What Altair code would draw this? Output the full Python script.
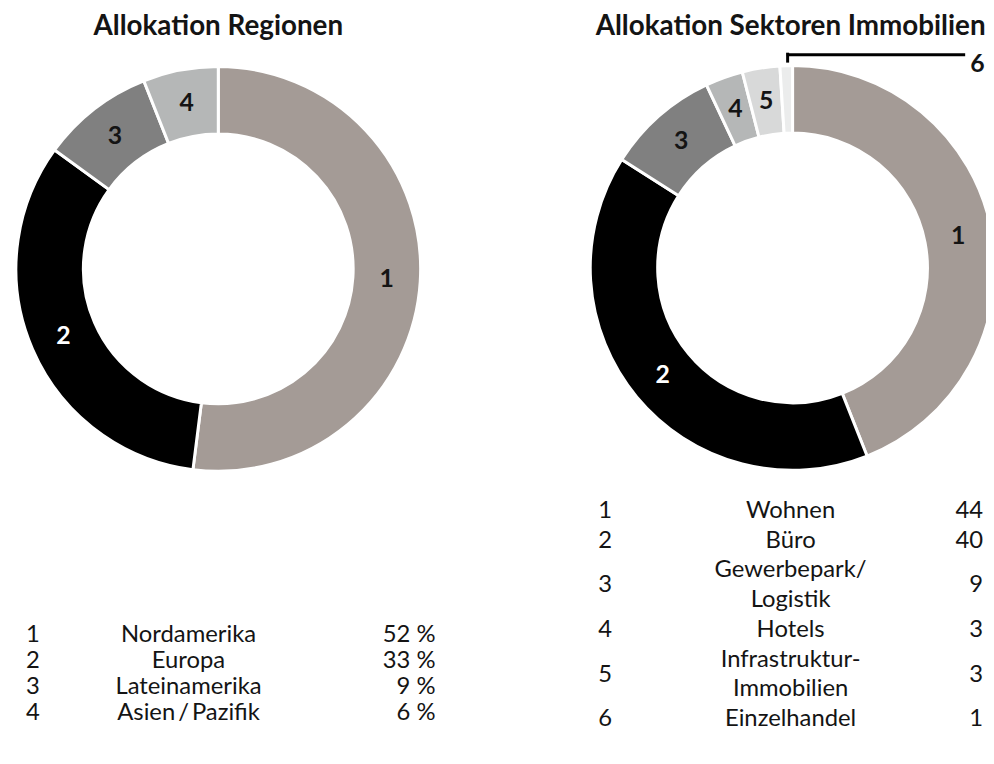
import altair as alt
import pandas as pd

# ---------------- data ----------------
titles = ["Allokation Regionen", "Allokation Sektoren Immobilien"]

reg_ids = [1, 2, 3, 4]
reg_names = ["Nordamerika", "Europa", "Lateinamerika", "Asien\u2009/\u2009Pazifik"]
reg_values = [52, 33, 9, 6]
reg_value_labels = ["52 %", "33 %", "9 %", "6 %"]

sec_ids = [1, 2, 3, 4, 5, 6]
sec_names = ["Wohnen", "Büro", "Gewerbepark/\nLogistik", "Hotels",
             "Infrastruktur-\nImmobilien", "Einzelhandel"]
sec_values = [44, 40, 9, 3, 3, 1]
sec_value_labels = ["44", "40", "9", "3", "3", "1"]

# ---------------- style ----------------
FONT = "Lato"
TXT = "#141414"
LEG_SIZE = 24
reg_colors = ["#a49b96", "#000000", "#808080", "#b5b7b7"]
sec_colors = ["#a49b96", "#000000", "#808080", "#b5b7b7", "#d8d9d9", "#ebecec"]

reg = pd.DataFrame({"id": reg_ids, "name": reg_names, "value": reg_values,
                    "vlabel": reg_value_labels})
sec = pd.DataFrame({"id": sec_ids, "name": sec_names, "value": sec_values,
                    "vlabel": sec_value_labels})
ttl = pd.DataFrame({"title": titles, "k": [0, 1]})


def donut(df, ids, colors, cx, cy):
    base = alt.Chart(df).encode(
        theta=alt.Theta("value:Q", stack=True),
        order=alt.Order("id:Q", sort="ascending"),
    )
    arcs = base.mark_arc(innerRadius=136, outerRadius=204, stroke="white",
                         strokeWidth=3).encode(
        x=alt.value(cx), y=alt.value(cy),
        color=alt.Color("id:N", scale=alt.Scale(domain=ids, range=colors), legend=None),
    )
    labels = base.transform_calculate(
        lab="datum.id == 6 ? '' : '' + datum.id"
    ).mark_text(radius=170, font=FONT, fontSize=25, fontWeight="bold").encode(
        x=alt.value(cx), y=alt.value(cy),
        text="lab:N",
        color=alt.condition(alt.datum.id == 2, alt.value("white"), alt.value(TXT)),
    )
    return [arcs, labels]


left = donut(reg, reg_ids, reg_colors, 212, 260)
right = donut(sec, sec_ids, sec_colors, 791, 259)

# titles
title_l = alt.Chart(ttl).transform_filter(alt.datum.k == 0).mark_text(
    font=FONT, fontSize=28, fontWeight="bold", color=TXT, baseline="middle"
).encode(text="title:N", x=alt.value(212), y=alt.value(16))
title_r = alt.Chart(ttl).transform_filter(alt.datum.k == 1).mark_text(
    font=FONT, fontSize=28, fontWeight="bold", color=TXT, baseline="middle"
).encode(text="title:N", x=alt.value(789), y=alt.value(16))

# outside label 6 with leader line
six = alt.Chart(sec).transform_filter(alt.datum.id == 6)
six_text = six.mark_text(font=FONT, fontSize=25, fontWeight="bold", color=TXT,
                         align="left", baseline="middle").encode(
    text="id:N", x=alt.value(970), y=alt.value(53))
six_h = six.mark_rule(color="black", strokeWidth=3).encode(
    x=alt.value(785), x2=alt.value(965), y=alt.value(44))
six_v = six.mark_rule(color="black", strokeWidth=3).encode(
    x=alt.value(786), y=alt.value(42), y2=alt.value(52))

# left legend table
ly = alt.Y("id:Q", scale=alt.Scale(domain=[1, 4], range=[629, 708]), axis=None)
lbase = alt.Chart(reg)
l_num = lbase.mark_text(font=FONT, fontSize=LEG_SIZE, color=TXT, align="center").encode(
    y=ly, x=alt.value(25), text="id:N")
l_name = lbase.mark_text(font=FONT, fontSize=LEG_SIZE, color=TXT, align="center").encode(
    y=ly, x=alt.value(182), text="name:N")
l_val = lbase.mark_text(font=FONT, fontSize=LEG_SIZE, color=TXT, align="right").encode(
    y=ly, x=alt.value(431), text="vlabel:N")

# right legend table (line-based positions)
rbase = alt.Chart(sec).transform_calculate(
    lines="length(split(datum.name, '\\n'))"
).transform_window(
    cum="sum(lines)", sort=[alt.SortField("id")], frame=[None, 0]
).transform_calculate(
    pos="datum.cum - datum.lines / 2",
    first="datum.cum - datum.lines + 0.5",
)
rscale = alt.Scale(domain=[0.5, 7.5], range=[504, 714])
r_num = rbase.mark_text(font=FONT, fontSize=LEG_SIZE, color=TXT, align="center").encode(
    y=alt.Y("pos:Q", scale=rscale, axis=None), x=alt.value(602), text="id:N")
r_name = rbase.mark_text(font=FONT, fontSize=LEG_SIZE, color=TXT, align="center",
                         baseline="middle", lineBreak="\n", lineHeight=30).encode(
    y=alt.Y("first:Q", scale=rscale, axis=None), x=alt.value(789), text="name:N")
r_val = rbase.mark_text(font=FONT, fontSize=LEG_SIZE, color=TXT, align="right").encode(
    y=alt.Y("pos:Q", scale=rscale, axis=None), x=alt.value(983), text="vlabel:N")

chart = alt.layer(
    *left, *right, title_l, title_r, six_h, six_v, six_text,
    l_num, l_name, l_val, r_num, r_name, r_val
).resolve_scale(
    theta="independent", color="independent", y="independent"
).properties(
    width=986, height=748, padding=0,
    autosize=alt.AutoSizeParams(type="none"),
).configure_view(stroke=None)

chart.save("out.html", embed_options={"renderer": "svg", "actions": False})
